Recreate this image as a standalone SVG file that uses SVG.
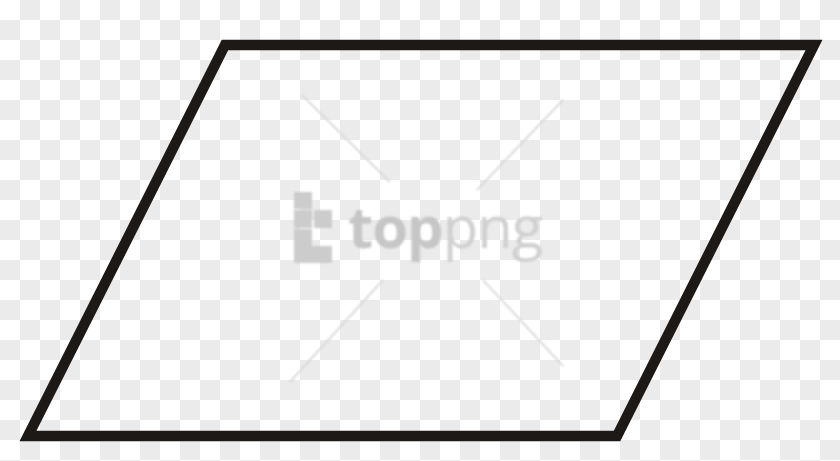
<svg xmlns="http://www.w3.org/2000/svg" width="840" height="461" viewBox="0 0 840 461">
  <defs>
    <pattern id="checker" x="0" y="0" width="40" height="40" patternUnits="userSpaceOnUse">
      <rect x="0" y="0" width="40" height="40" fill="#ffffff"/>
      <rect x="20" y="0" width="20" height="20" fill="#ebebeb"/>
      <rect x="0" y="20" width="20" height="20" fill="#ebebeb"/>
    </pattern>
    <filter id="soft" x="-10%" y="-10%" width="120%" height="120%">
      <feGaussianBlur stdDeviation="1.2"/>
    </filter>
  </defs>
  <style>
    .shape { fill: none; stroke: #1c1917; stroke-width: 10.5; stroke-linejoin: miter; }
    .wm-line { stroke: #dadada; stroke-width: 2; fill: none; }
    .wm-block { fill: #cccccc; }
    .wm-text { font-family: "Open Sans", "Liberation Sans", sans-serif; font-size: 58px; fill: #c6c6c6; letter-spacing: -1px; }
  </style>

  <rect x="0" y="0" width="840" height="461" fill="url(#checker)"/>

  <g id="watermark" filter="url(#soft)">
    <line class="wm-line" x1="302" y1="95" x2="390" y2="182"/>
    <line class="wm-line" x1="483" y1="280" x2="563" y2="366"/>
    <line class="wm-line" x1="563" y1="100" x2="477" y2="190"/>
    <line class="wm-line" x1="383" y1="280" x2="290" y2="382"/>
    <rect class="wm-block" x="294" y="192" width="18" height="17"/>
    <rect class="wm-block" x="294" y="210" width="18" height="18"/>
    <rect class="wm-block" x="314" y="210" width="18" height="18"/>
    <rect class="wm-block" x="294" y="229" width="18" height="34"/>
    <rect class="wm-block" x="312" y="246" width="20" height="17"/>
    <text class="wm-text" x="348" y="248"><tspan font-weight="bold">top</tspan><tspan fill="#d0d0d0">png</tspan></text>
  </g>

  <g id="parallelogram">
    <polygon class="shape" points="225,45 814,45 617,436 28,436"/>
  </g>

  <g id="connectors"></g>
</svg>
